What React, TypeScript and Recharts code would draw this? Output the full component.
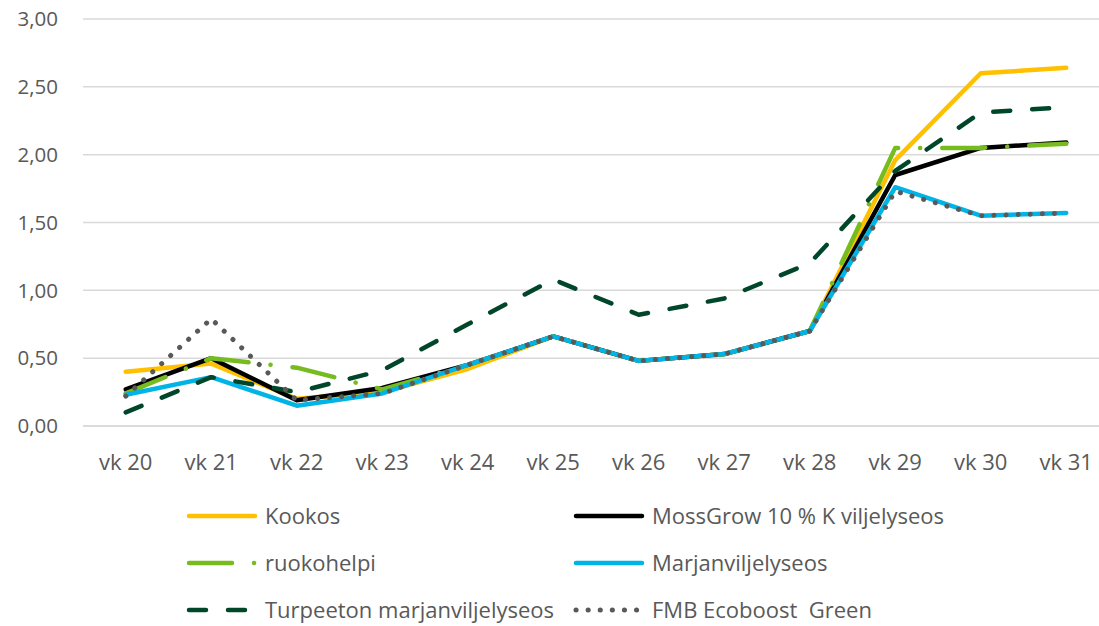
import { CartesianGrid, Legend, Line, LineChart, XAxis, YAxis } from 'recharts'

const WEEKS = ['vk 20', 'vk 21', 'vk 22', 'vk 23', 'vk 24', 'vk 25', 'vk 26', 'vk 27', 'vk 28', 'vk 29', 'vk 30', 'vk 31']
const KOOKOS = [0.4, 0.46, 0.2, 0.25, 0.42, 0.66, 0.48, 0.53, 0.7, 1.96, 2.6, 2.64]
const MOSSGROW = [0.27, 0.5, 0.19, 0.28, 0.45, 0.66, 0.48, 0.53, 0.7, 1.85, 2.05, 2.09]
const RUOKOHELPI = [0.24, 0.5, 0.43, 0.27, 0.45, 0.66, 0.48, 0.53, 0.7, 2.05, 2.05, 2.08]
const MARJAN = [0.23, 0.36, 0.15, 0.24, 0.45, 0.66, 0.48, 0.53, 0.7, 1.76, 1.55, 1.57]
const TURPEETON = [0.1, 0.36, 0.25, 0.41, 0.75, 1.08, 0.82, 0.94, 1.2, 1.88, 2.31, 2.35]
const FMB = [0.22, 0.79, 0.19, 0.24, 0.45, 0.66, 0.48, 0.53, 0.7, 1.73, 1.55, 1.57]
const Y_TICKS = [0, 0.5, 1, 1.5, 2, 2.5, 3]

const SERIES = [
  { key: 'kookos', name: 'Kookos', values: KOOKOS, color: '#FFC000', dash: undefined as string | undefined },
  { key: 'mossgrow', name: 'MossGrow 10 % K viljelyseos', values: MOSSGROW, color: '#000000', dash: undefined },
  { key: 'ruokohelpi', name: 'ruokohelpi', values: RUOKOHELPI, color: '#77BC1F', dash: '43 22 0.1 22' },
  { key: 'marjan', name: 'Marjanviljelyseos', values: MARJAN, color: '#00B4E6', dash: undefined },
  { key: 'turpeeton', name: 'Turpeeton marjanviljelyseos', values: TURPEETON, color: '#00472A', dash: '17 22' },
  { key: 'fmb', name: 'FMB Ecoboost  Green', values: FMB, color: '#595959', dash: '0.1 12' },
]

const data = WEEKS.map((week, i) => {
  const row: Record<string, string | number> = { week }
  SERIES.forEach((s) => {
    row[s.key] = s.values[i]
  })
  return row
})

const FONT = '"Open Sans", "Noto Sans", sans-serif'
const TEXT = '#595959'

function LegendBox() {
  const cols = [187, 574]
  const rows = [21, 68, 115]
  return (
    <svg width={1099} height={130} style={{ display: 'block' }}>
      {SERIES.map((s, i) => {
        const x = cols[i % 2]
        const y = rows[Math.floor(i / 2)]
        return (
          <g key={s.key}>
            <line
              x1={x + 2}
              x2={x + 68}
              y1={y}
              y2={y}
              stroke={s.color}
              strokeWidth={s.key === 'fmb' ? 5 : 4.5}
              strokeDasharray={s.dash}
              strokeLinecap="round"
            />
            <text x={x + 78} y={y} dy="0.35em" fontSize={22} fill={TEXT} fontFamily={FONT} style={{ whiteSpace: 'pre' }}>
              {s.name}
            </text>
          </g>
        )
      })}
    </svg>
  )
}

export default function App() {
  return (
    <div style={{ position: 'absolute', left: 0, top: 0, width: 1099, height: 626, overflow: 'hidden', background: '#fff' }}>
      <LineChart width={1109} height={626} data={data} margin={{ top: 19, right: 0, left: 0, bottom: 140 }}>
        <CartesianGrid vertical={false} stroke="#D9D9D9" strokeWidth={1.5} />
        <XAxis
          dataKey="week"
          padding={{ left: 42.75, right: 42.75 }}
          height={60}
          tickLine={false}
          tickSize={0}
          tickMargin={28}
          axisLine={{ stroke: '#D9D9D9', strokeWidth: 1.5 }}
          tick={{ fontSize: 22, fill: TEXT, fontFamily: FONT }}
          interval={0}
        />
        <YAxis
          width={83}
          domain={[0, 3]}
          ticks={Y_TICKS}
          tickLine={false}
          axisLine={false}
          tickSize={0}
          tickMargin={25}
          tick={{ fontSize: 20.5, fill: TEXT, fontFamily: FONT }}
          tickFormatter={(v: number) => v.toFixed(2).replace('.', ',')}
        />
        <Legend
          layout="horizontal"
          verticalAlign="middle"
          align="center"
          wrapperStyle={{ left: 0, top: 495, width: 1099, height: 130 }}
          content={() => <LegendBox />}
        />
        {SERIES.map((s) => (
          <Line
            key={s.key}
            type="linear"
            dataKey={s.key}
            name={s.name}
            stroke={s.color}
            strokeWidth={s.key === 'fmb' ? 5 : 4.5}
            strokeDasharray={s.dash}
            strokeLinecap="round"
            strokeLinejoin="round"
            dot={false}
            activeDot={false}
            isAnimationActive={false}
          />
        ))}
      </LineChart>
    </div>
  )
}
